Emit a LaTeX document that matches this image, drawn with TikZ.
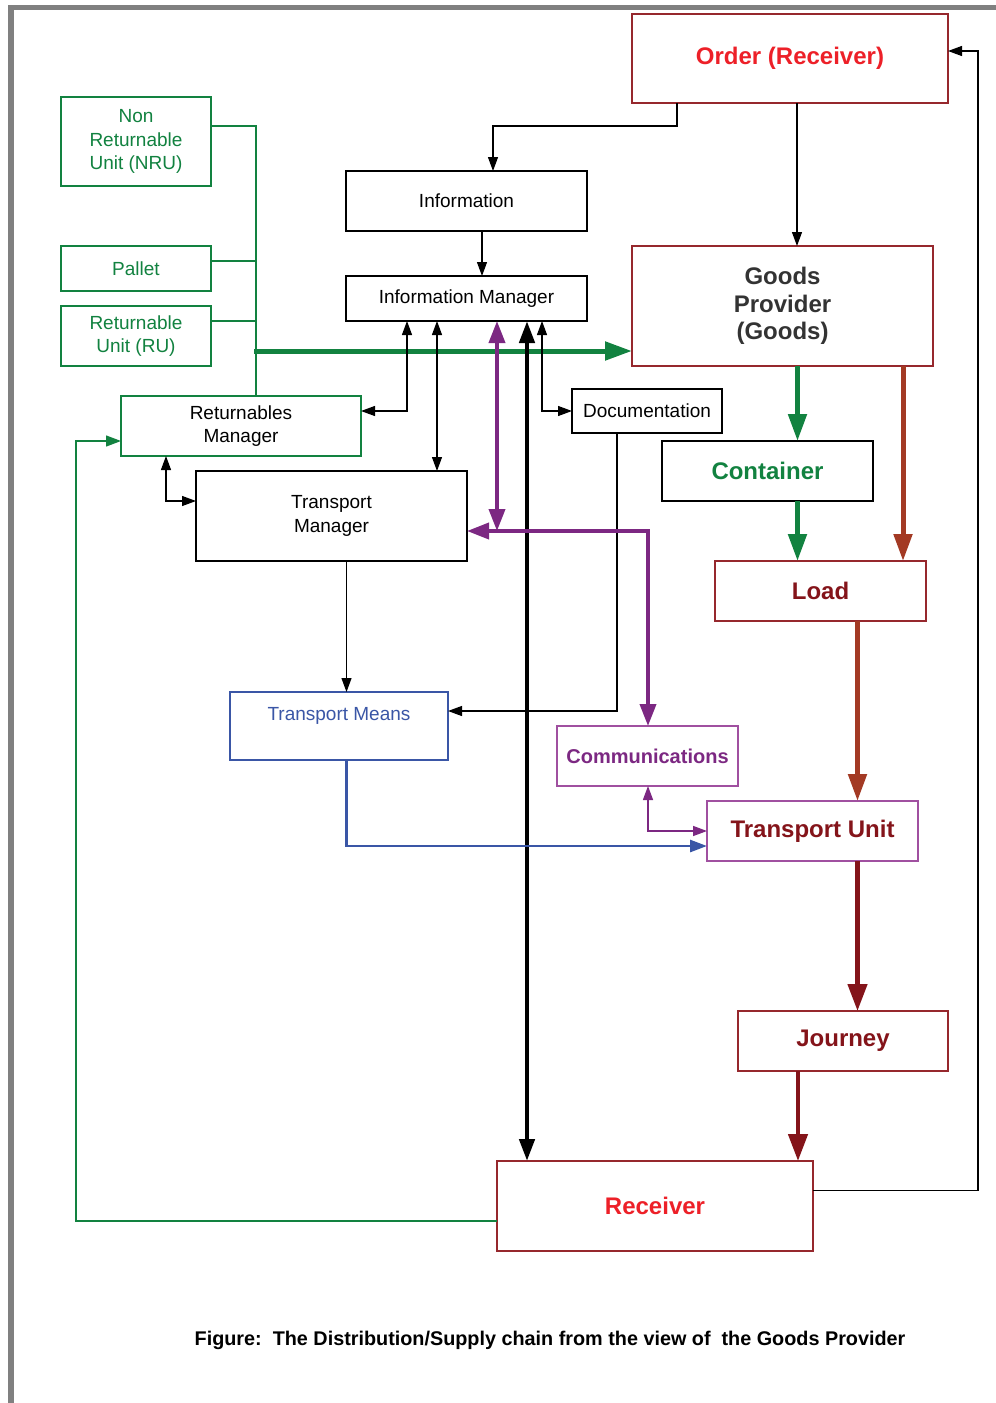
\documentclass[tikz,border=0pt]{standalone}
\usepackage{fontspec}
\setmainfont{Liberation Sans}
\usetikzlibrary{arrows.meta}
\definecolor{cgray}{RGB}{128,128,128}
\definecolor{cgreen}{RGB}{18,130,64}
\definecolor{cdred}{RGB}{150,40,45}
\definecolor{ctred}{RGB}{132,20,26}
\definecolor{cred}{RGB}{237,32,40}
\definecolor{cbrown}{RGB}{163,58,36}
\definecolor{cpurple}{RGB}{124,40,130}
\definecolor{cpbox}{RGB}{160,80,160}
\definecolor{cblue}{RGB}{58,86,166}
\definecolor{cgptext}{RGB}{51,51,51}
\newcommand\regf{\fontsize{19}{23.5}\selectfont}
\newcommand\boldf{\fontsize{24}{27.5}\selectfont\bfseries}
\newcommand\ordf{\fontsize{24}{27.5}\selectfont\bfseries}
\newcommand\commf{\fontsize{20}{24}\selectfont\bfseries}
\newcommand\capf{\fontsize{19.8}{23}\selectfont\bfseries}
\begin{document}
\begin{tikzpicture}[x=1pt,y=-1pt,
  box/.style={draw, line width=1.05pt, inner sep=0pt, outer sep=0pt, align=center, font=\regf},
  thinarr/.style={line width=1.15pt, >={Triangle[length=14pt,width=10pt]}},
  gthin/.style={draw=cgreen, line width=1.15pt},
  gthinarr/.style={cgreen, line width=1.3pt, >={Triangle[length=15pt,width=11pt]}},
  gthick/.style={cgreen, line width=5pt, >={Triangle[length=27pt,width=18pt]}},
  parr/.style={cpurple, line width=3.8pt, >={Triangle[length=22pt,width=16pt]}},
  pthin/.style={cpurple, line width=1.4pt, >={Triangle[length=14pt,width=10pt]}},
  barr/.style={black, line width=4.5pt, >={Triangle[length=22pt,width=15pt]}},
  brarr/.style={cbrown, line width=5pt, >={Triangle[length=27pt,width=18pt]}},
  drarr/.style={ctred, line width=4.5pt, >={Triangle[length=27pt,width=19pt]}},
  blarr/.style={cblue, line width=2.7pt, >={Triangle[length=17pt,width=12pt]}}
]
\useasboundingbox (0,0) rectangle (996,1403);
\fill[white] (0,0) rectangle (996,1403);
\fill[cgray] (8,5) rectangle (996,10);
\fill[cgray] (8,5) rectangle (14,1403);

% nodes
\node[box, draw=cdred, text=cred, font=\ordf, minimum width=316pt, minimum height=89pt] (ord) at (790,58.5) {Order (Receiver)};
\node[box, draw=cgreen, text=cgreen, minimum width=150pt, minimum height=89pt] (nru) at (136,141.5) {Non\\Returnable\\Unit (NRU)};
\node[box, draw=cgreen, text=cgreen, minimum width=150pt, minimum height=45pt] (pal) at (136,268.5) {Pallet};
\node[box, draw=cgreen, text=cgreen, minimum width=150pt, minimum height=60pt] (ru) at (136,336) {Returnable\\Unit (RU)};
\node[box, minimum width=241pt, minimum height=60pt] (info) at (466.5,201) {Information};
\node[box, minimum width=241pt, minimum height=45pt] (im) at (466.5,298.5) {Information Manager};
\node[box, draw=cdred, text=cgptext, font=\boldf, minimum width=301pt, minimum height=120pt] (gp) at (782.5,306) {Goods\\Provider\\(Goods)};
\node[box, draw=cgreen, minimum width=240pt, minimum height=60pt] (rm) at (241,426) {Returnables\\Manager};
\node[box, minimum width=271pt, minimum height=90pt] (tm) at (331.5,516) {Transport\\Manager};
\node[box, minimum width=150pt, minimum height=44pt] (doc) at (647,411) {Documentation};
\node[box, text=cgreen, font=\boldf, minimum width=211pt, minimum height=60pt] (cont) at (767.5,471) {Container};
\node[box, draw=cdred, text=ctred, font=\boldf, minimum width=211pt, minimum height=60pt] (load) at (820.5,591) {Load};
\node[box, draw=cblue, text=cblue, minimum width=218pt, minimum height=68pt] (tmeans) at (339,726) {Transport Means\\[-6pt]\strut};
\node[box, draw=cpbox, text=cpurple, font=\commf, minimum width=181pt, minimum height=60pt] (comm) at (647.5,756) {Communications};
\node[box, draw=cpbox, text=ctred, font=\boldf, minimum width=211pt, minimum height=60pt] (tu) at (812.5,831) {Transport Unit};
\node[box, draw=cdred, text=ctred, font=\boldf, minimum width=210pt, minimum height=60pt] (jour) at (843,1041) {Journey};
\node[box, draw=cdred, text=cred, font=\boldf, minimum width=316pt, minimum height=90pt] (rec) at (655,1206) {Receiver};
\node[font=\capf, inner sep=0pt] (cap) at (550,1340) {Figure:\ \ The Distribution/Supply chain from the view of\ \ the Goods Provider};

% coordinates
\coordinate (o1) at (677,126); \coordinate (o2) at (493,126);
\coordinate (o3) at (797,0);
\coordinate (i1) at (482,0);
\coordinate (g1) at (256,126); \coordinate (g2) at (256,261); \coordinate (g3) at (256,321);
\coordinate (g4) at (254,351);
\coordinate (a1) at (407,411); \coordinate (a2) at (437,0); \coordinate (a3) at (542,411);
\coordinate (p1) at (497,531); \coordinate (pc) at (648,531);
\coordinate (b1) at (527,0);
\coordinate (d1) at (617,711);
\coordinate (c1) at (797.5,0);
\coordinate (br1) at (903,0); \coordinate (br2) at (857.5,0);
\coordinate (dr1) at (798,0);
\coordinate (t1) at (346.5,0);
\coordinate (bl) at (346.5,846);
\coordinate (cm) at (648,831);
\coordinate (r1) at (978,1190.5); \coordinate (r2) at (978,51);
\coordinate (r3) at (76,1221); \coordinate (r4) at (76,441);
\coordinate (r5) at (166,501);

% connectors
\draw[thinarr,->] (ord.south -| o1) -- (o1) -- (o2) -- (info.north -| o2);
\draw[thinarr,->] (ord.south -| o3) -- (gp.north -| o3);
\draw[thinarr,->] (info.south -| i1) -- (im.north -| i1);
\draw[gthin] (nru.east |- g1) -- (g1) -- (rm.north -| g1);
\draw[gthin] (pal.east |- g2) -- (g2);
\draw[gthin] (ru.east |- g3) -- (g3);
\draw[gthick,->] (g4) -- (gp.west |- g4);
\draw[thinarr,<->] (im.south -| a1) -- (a1) -- (rm.east |- a1);
\draw[thinarr,<->] (im.south -| a2) -- (tm.north -| a2);
\draw[thinarr,<->] (im.south -| a3) -- (a3) -- (doc.west |- a3);
\draw[thinarr,->] (doc.south -| d1) -- (d1) -- (tmeans.east |- d1);
\draw[barr,<->] (im.south -| b1) -- (rec.north -| b1);
\draw[parr,<->] (im.south -| p1) -- (p1);
\draw[parr,<->] (tm.east |- pc) -- (pc) -- (comm.north -| pc);
\draw[gthick,->] (gp.south -| c1) -- (cont.north -| c1);
\draw[gthick,->] (cont.south -| c1) -- (load.north -| c1);
\draw[brarr,->] (gp.south -| br1) -- (load.north -| br1);
\draw[brarr,->] (load.south -| br2) -- (tu.north -| br2);
\draw[drarr,->] (tu.south -| br2) -- (jour.north -| br2);
\draw[drarr,->] (jour.south -| dr1) -- (rec.north -| dr1);
\draw[thinarr,->] (tm.south -| t1) -- (tmeans.north -| t1);
\draw[blarr,->] (tmeans.south -| bl) -- (bl) -- (tu.west |- bl);
\draw[pthin,<->] (comm.south -| cm) -- (cm) -- (tu.west |- cm);
\draw[thinarr,->] (rec.east |- r1) -- (r1) -- (r2) -- (ord.east |- r2);
\draw[gthinarr,->] (rec.west |- r3) -- (r3) -- (r4) -- (rm.west |- r4);
\draw[thinarr,<->] (rm.south -| r5) -- (r5) -- (tm.west |- r5);
\end{tikzpicture}
\end{document}
